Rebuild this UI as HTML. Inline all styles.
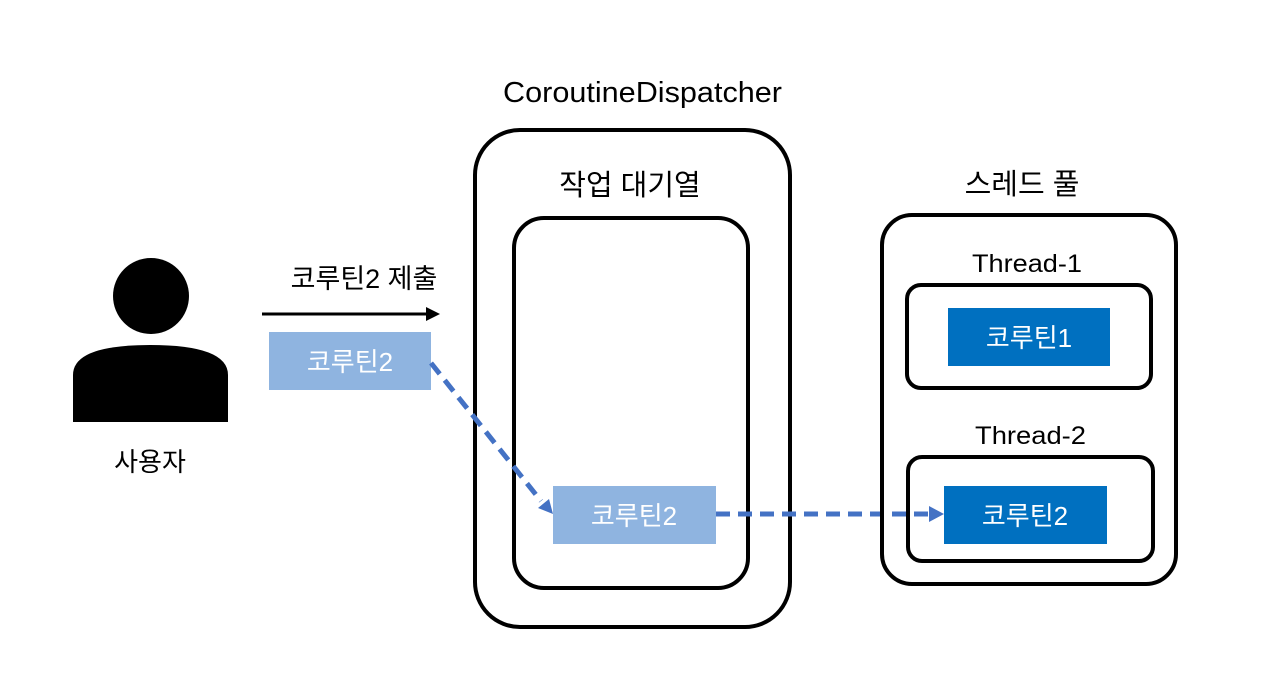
<!DOCTYPE html>
<html><head><meta charset="utf-8"><style>
body{margin:0;background:#fff;}
svg text{font-family:"Liberation Sans","Noto Sans CJK KR",sans-serif;}
</style></head><body>
<svg width="1278" height="670" viewBox="0 0 1278 670" xmlns="http://www.w3.org/2000/svg">
<rect width="1278" height="670" fill="#fff"/>
<circle cx="151" cy="296" r="38" fill="#000"/>
<path d="M73 422 L73 375 Q73 345 150 345 Q228 345 228 375 L228 422 Z" fill="#000"/>
<text x="150" y="471" font-size="26" text-anchor="middle">사용자</text>
<text x="364" y="288" font-size="27" text-anchor="middle">코루틴2 제출</text>
<line x1="262" y1="314" x2="428" y2="314" stroke="#000" stroke-width="3"/>
<polygon points="440,314 426,307 426,321" fill="#000"/>
<rect x="269" y="332" width="162" height="58" fill="#8fb4e0"/>
<text x="350" y="371" font-size="26" fill="#fff" text-anchor="middle">코루틴2</text>
<text x="503" y="102" font-size="29" textLength="279" lengthAdjust="spacingAndGlyphs">CoroutineDispatcher</text>
<rect x="475" y="130" width="315" height="497" rx="45" fill="none" stroke="#000" stroke-width="4"/>
<text x="630" y="195" font-size="29" text-anchor="middle">작업 대기열</text>
<rect x="514" y="218" width="234" height="370" rx="30" fill="none" stroke="#000" stroke-width="4"/>
<rect x="553" y="486" width="163" height="58" fill="#8fb4e0"/>
<text x="634" y="525" font-size="26" fill="#fff" text-anchor="middle">코루틴2</text>
<line x1="431" y1="363" x2="541" y2="501" stroke="#4472c4" stroke-width="5" stroke-dasharray="14,8"/>
<polygon points="553,514 538,508 549,499" fill="#4472c4"/>
<line x1="716" y1="514" x2="930" y2="514" stroke="#4472c4" stroke-width="5" stroke-dasharray="14,8"/>
<polygon points="944,514 929,506 929,522" fill="#4472c4"/>
<text x="1022" y="194" font-size="29" text-anchor="middle">스레드 풀</text>
<rect x="882" y="215" width="294" height="369" rx="30" fill="none" stroke="#000" stroke-width="4"/>
<text x="972" y="272" font-size="25" textLength="110" lengthAdjust="spacingAndGlyphs">Thread-1</text>
<rect x="907" y="285" width="244" height="103" rx="14" fill="none" stroke="#000" stroke-width="4"/>
<rect x="948" y="308" width="162" height="58" fill="#0070c0"/>
<text x="1029" y="347" font-size="26" fill="#fff" text-anchor="middle">코루틴1</text>
<text x="975" y="444" font-size="25" textLength="111" lengthAdjust="spacingAndGlyphs">Thread-2</text>
<rect x="908" y="457" width="245" height="104" rx="14" fill="none" stroke="#000" stroke-width="4"/>
<rect x="944" y="486" width="163" height="58" fill="#0070c0"/>
<text x="1025" y="525" font-size="26" fill="#fff" text-anchor="middle">코루틴2</text>
</svg>
</body></html>
